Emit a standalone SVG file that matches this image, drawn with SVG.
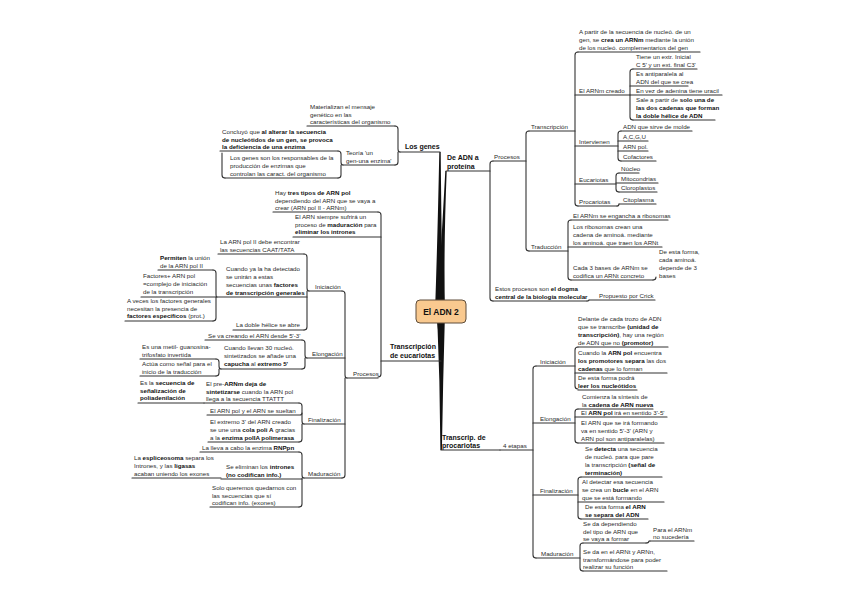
<svg xmlns="http://www.w3.org/2000/svg" width="848" height="599" viewBox="0 0 848 599">
<style>
text{font-family:"Liberation Sans",Arial,sans-serif;fill:#2a2a2a}
.t{font-size:6.2px}
.b{font-weight:bold;fill:#111}
.m{font-size:7px;font-weight:bold;fill:#111}
.c{font-size:8.5px;font-weight:bold;fill:#111}
.u{fill:none;stroke:#333;stroke-width:1.1;stroke-linecap:round}
.k{fill:none;stroke:#333;stroke-width:1.1;stroke-linecap:round;stroke-linejoin:round}
.br{fill:#111;stroke:none}
</style>
<rect width="848" height="599" fill="#fff"/>
<g id="connectors">
<path class="br" d="M439.3,152 Q437.5,240 435,312 L443,312 Q441.5,240 440.7,152 Z"/>
<path class="br" d="M445.3,171 Q441,250 437,312 L445,312 Q443.5,250 446.7,171 Z"/>
<path class="br" d="M440.3,361 Q439,335 436,312 L444,312 Q441.8,335 441.7,361 Z"/>
<path class="br" d="M440.4,450 Q440,380 437,312 L445,312 Q443,380 441.9,450 Z"/>
<path class="k" d="M490,171 V164 Q490,161 493,161 M490,171 V298 Q490,301 493,301"/>
<path class="k" d="M526,161 V134 Q526,131 529,131 M526,161 V248 Q526,251 529,251"/>
<path class="k" d="M575,131 V55 Q575,52 578,52 M575,131 V203 Q575,206 578,206 M575,98 V95 M575,143 V146 M575,181 V184"/>
<path class="k" d="M630,95 V72 Q630,69 633,69 M630,95 V117 Q630,120 633,120"/>
<path class="k" d="M618,146 V134 Q618,131 621,131 M618,146 V158 Q618,161 621,161"/>
<path class="k" d="M616,184 V176 Q616,173 619,173 M616,184 V189 Q616,192 619,192"/>
<path class="k" d="M617,206 Q619,206 619,204"/>
<path class="k" d="M568,251 V223 Q568,220 571,220 M568,251 V277 Q568,280 571,280"/>
<path class="k" d="M653,280 Q656,280 656,277"/>
<path class="k" d="M587,301 Q589,301 589,300"/>
<path class="k" d="M533,450 V369 Q533,366 536,366 M533,450 V555 Q533,558 536,558"/>
<path class="k" d="M575,366 V350 Q575,347 578,347 M575,366 V386 Q575,389 578,389"/>
<path class="k" d="M575,423 V412 Q575,409 578,409 M575,423 V440 Q575,443 578,443"/>
<path class="k" d="M578,495 V480 Q578,477 581,477 M578,495 V516 Q578,519 581,519"/>
<path class="k" d="M580,558 V546 Q580,543 583,543 M580,558 V568 Q580,571 583,571"/>
<path class="k" d="M646,543 Q649,543 649,541 H650"/>
<path class="k" d="M400,152 Q398,152 398,149 V129 Q398,126 395,126 M398,152 V162 Q398,165 395,165"/>
<path class="k" d="M343,165 Q341,165 341,162 V154 Q341,151 338,151 M341,165 V175 Q341,178 338,178"/>
<path class="k" d="M222,153 V175 Q222,178 225,178"/>
<path class="k" d="M381,361 V215 Q381,212 378,212 M381,361 V374 Q381,377 378,377"/>
<path class="k" d="M347,378 Q345,378 345,375 V294 Q345,291 342,291 M345,378 V475 Q345,478 342,478"/>
<path class="k" d="M309,291 Q307,291 307,288 V257 Q307,254 304,254 M307,291 V327 Q307,330 304,330"/>
<path class="k" d="M217,297 Q216,297 216,294 V273 Q216,270 213,270 M216,297 V318 Q216,321 213,321"/>
<path class="k" d="M307,358 Q305,358 305,355 V343 Q305,340 302,340 M305,358 V366 Q305,369 302,369"/>
<path class="k" d="M221,369 Q219,369 219,366 V362 Q219,359 216,359 M219,369 V373 Q219,376 216,376"/>
<path class="k" d="M304,424 Q302,424 302,421 V406 Q302,403 299,403 M302,424 V439 Q302,442 299,442"/>
<path class="k" d="M304,478 Q302,478 302,475 V455 Q302,452 299,452 M302,478 V504 Q302,507 299,507"/>
</g>
<g id="center">
<rect x="416" y="300" width="50" height="23" rx="4" fill="#F9C98F" stroke="#5e4d3a" stroke-width="1"/>
<text class="c" x="441" y="315" text-anchor="middle">El ADN 2</text>
</g>
<g id="n-adn-proteina"><text class="m" x="447" y="160">De ADN a</text><text class="m" x="447" y="169">proteína</text><path class="u" d="M446,171 H490"/></g>
<g id="n-procesos-r"><text class="t" x="494" y="159">Procesos</text><path class="u" d="M493,161 H526"/></g>
<g id="n-transcripcion"><text class="t" x="531" y="129">Transcripción</text><path class="u" d="M529,131 H575"/></g>
<g id="n-apartir"><text class="t" x="579"><tspan x="579" y="34">A partir de la secuencia de nucleó. de un</tspan><tspan x="579" y="42">gen, se <tspan class="b">crea un ARNm</tspan> mediante la unión</tspan><tspan x="579" y="50">de los nucleó. complementarios del gen</tspan></text><path class="u" d="M578,52 H700"/></g>
<g id="n-arnm-creado"><text class="t" x="579" y="93">El ARNm creado</text><path class="u" d="M575,95 H630"/></g>
<g id="n-tiene"><text class="t"><tspan x="636" y="59">Tiene un extr. Inicial</tspan><tspan x="636" y="67">C 5' y un ext. final C3'</tspan></text><path class="u" d="M633,69 H697"/></g>
<g id="n-antiparalela"><text class="t"><tspan x="636" y="76">Es antiparalela al</tspan><tspan x="636" y="84">ADN del que se crea</tspan></text><path class="u" d="M630,86 H688"/></g>
<g id="n-uracil"><text class="t" x="636" y="93">En vez de adenina tiene uracil</text><path class="u" d="M630,95 H722"/></g>
<g id="n-sale"><text class="t"><tspan x="636" y="102">Sale a partir de <tspan class="b">solo una de</tspan></tspan><tspan x="636" y="110" class="b">las dos cadenas que forman</tspan><tspan x="636" y="118" class="b">la doble hélice de ADN</tspan></text><path class="u" d="M633,120 H715"/></g>
<g id="n-intervienen"><text class="t" x="579" y="144">Intervienen</text><path class="u" d="M575,146 H618"/></g>
<g id="n-molde"><text class="t" x="623" y="129">ADN que sirve de molde</text><path class="u" d="M621,131 H692"/></g>
<g id="n-acgu"><text class="t" x="623" y="139">A,C,G,U</text><path class="u" d="M618,141 H648"/></g>
<g id="n-arnpol"><text class="t" x="623" y="149">ARN pol.</text><path class="u" d="M618,151 H648"/></g>
<g id="n-cofactores"><text class="t" x="623" y="159">Cofactores</text><path class="u" d="M621,161 H656"/></g>
<g id="n-eucariotas-r"><text class="t" x="579" y="182">Eucariotas</text><path class="u" d="M575,184 H616"/></g>
<g id="n-nucleo"><text class="t" x="621" y="171">Núcleo</text><path class="u" d="M619,173 H639"/></g>
<g id="n-mito"><text class="t" x="621" y="181">Mitocondrias</text><path class="u" d="M616,183 H658"/></g>
<g id="n-cloro"><text class="t" x="621" y="190">Cloroplastos</text><path class="u" d="M619,192 H657"/></g>
<g id="n-procariotas-r"><text class="t" x="579" y="204">Procariotas</text><path class="u" d="M578,206 H617"/></g>
<g id="n-citoplasma"><text class="t" x="623" y="202">Citoplasma</text><path class="u" d="M619,204 H656"/></g>
<g id="n-traduccion"><text class="t" x="531" y="249">Traducción</text><path class="u" d="M529,251 H568"/></g>
<g id="n-engancha"><text class="t" x="573" y="218">El ARNm se engancha a ribosomas</text><path class="u" d="M571,220 H668"/></g>
<g id="n-ribosomas"><text class="t"><tspan x="573" y="229">Los ribosomas crean una</tspan><tspan x="573" y="237">cadena de aminoá. mediante</tspan><tspan x="573" y="245">los aminoá. que traen los ARNt</tspan></text><path class="u" d="M568,247 H662"/></g>
<g id="n-cada3"><text class="t"><tspan x="573" y="270">Cada 3 bases de ARNm se</tspan><tspan x="573" y="278">codifica un ARNt concreto</tspan></text><path class="u" d="M571,280 H653"/></g>
<g id="n-deestaforma1"><text class="t"><tspan x="659" y="254">De esta forma,</tspan><tspan x="659" y="262">cada aminoá.</tspan><tspan x="659" y="270">depende de 3</tspan><tspan x="659" y="278">bases</tspan></text></g>
<g id="n-dogma"><text class="t"><tspan x="495" y="291">Estos procesos son <tspan class="b">el dogma</tspan></tspan><tspan x="495" y="299" class="b">central de la biología molecular</tspan></text><path class="u" d="M493,301 H587"/></g>
<g id="n-crick"><text class="t" x="599" y="298">Propuesto por Crick</text><path class="u" d="M589,300 H655"/></g>
<g id="n-procariotas"><text class="m" x="442" y="440">Transcrip. de</text><text class="m" x="442" y="448">procariotas</text><path class="u" d="M441,450 H500"/></g>
<g id="n-4etapas"><text class="t" x="503" y="448">4 etapas</text><path class="u" d="M500,450 H533"/></g>
<g id="n-iniciacion-r"><text class="t" x="540" y="364">Iniciación</text><path class="u" d="M536,366 H575"/></g>
<g id="n-delante"><text class="t"><tspan x="578" y="321">Delante de cada trozo de ADN</tspan><tspan x="578" y="329">que se transcribe <tspan class="b">(unidad de</tspan></tspan><tspan x="578" y="337"><tspan class="b">transcripción)</tspan>, hay una región</tspan><tspan x="578" y="345">de ADN que no <tspan class="b">(promotor)</tspan></tspan></text><path class="u" d="M578,347 H668"/></g>
<g id="n-cuandoarnpol"><text class="t"><tspan x="578" y="355">Cuando la <tspan class="b">ARN pol</tspan> encuentra</tspan><tspan x="578" y="363"><tspan class="b">los promotores separa</tspan> las dos</tspan><tspan x="578" y="371"><tspan class="b">cadenas</tspan> que lo forman</tspan></text><path class="u" d="M575,373 H667"/></g>
<g id="n-leer"><text class="t"><tspan x="578" y="380">De esta forma podrá</tspan><tspan x="578" y="388" class="b">leer los nucleótidos</tspan></text><path class="u" d="M578,390 H637"/></g>
<g id="n-elongacion-r"><text class="t" x="540" y="421">Elongación</text><path class="u" d="M533,423 H575"/></g>
<g id="n-comienza"><text class="t"><tspan x="582" y="399">Comienza la síntesis de</tspan><tspan x="582" y="407">la <tspan class="b">cadena de ARN nueva</tspan></tspan></text><path class="u" d="M578,409 H653"/></g>
<g id="n-ira35"><text class="t" x="581" y="415">El <tspan class="b">ARN pol</tspan> irá en sentido 3'-5'</text><path class="u" d="M575,417 H667"/></g>
<g id="n-ira53"><text class="t"><tspan x="581" y="425">El ARN que se irá formando</tspan><tspan x="581" y="433">va en sentido 5'-3' (ARN y</tspan><tspan x="581" y="441">ARN pol son antiparalelas)</tspan></text><path class="u" d="M578,443 H664"/></g>
<g id="n-finalizacion-r"><text class="t" x="540" y="493">Finalización</text><path class="u" d="M533,495 H578"/></g>
<g id="n-detecta"><text class="t"><tspan x="585" y="451">Se <tspan class="b">detecta</tspan> una secuencia</tspan><tspan x="585" y="459">de nucleó. para que pare</tspan><tspan x="585" y="467">la transcripción <tspan class="b">(señal de</tspan></tspan><tspan x="585" y="475" class="b">terminación)</tspan></text><path class="u" d="M581,477 H662"/></g>
<g id="n-bucle"><text class="t"><tspan x="582" y="484">Al detectar esa secuencia</tspan><tspan x="582" y="492">se crea un <tspan class="b">bucle</tspan> en el ARN</tspan><tspan x="582" y="500">que se está formando</tspan></text><path class="u" d="M578,502 H664"/></g>
<g id="n-separa"><text class="t"><tspan x="585" y="509">De esta forma <tspan class="b">el ARN</tspan></tspan><tspan x="585" y="517" class="b">se separa del ADN</tspan></text><path class="u" d="M581,519 H648"/></g>
<g id="n-maduracion-r"><text class="t" x="541" y="556">Maduración</text><path class="u" d="M536,558 H580"/></g>
<g id="n-dependiendo"><text class="t"><tspan x="583" y="526">Se da dependiendo</tspan><tspan x="583" y="534">del tipo de ARN que</tspan><tspan x="583" y="541">se vaya a formar</tspan></text><path class="u" d="M583,543 H646"/></g>
<g id="n-nosucederia"><text class="t"><tspan x="653" y="532">Para el ARNm</tspan><tspan x="653" y="539">no sucedería</tspan></text><path class="u" d="M650,541 H694"/></g>
<g id="n-arnt"><text class="t"><tspan x="583" y="554">Se da en el ARNt y ARNn,</tspan><tspan x="583" y="562">transformándose para poder</tspan><tspan x="583" y="569">realizar su función</tspan></text><path class="u" d="M583,571 H667"/></g>
<g id="n-genes"><text class="m" x="405" y="149">Los genes</text><path class="u" d="M400,152 H440"/></g>
<g id="n-materializan"><text class="t"><tspan x="310" y="109">Materializan el mensaje</tspan><tspan x="310" y="117">genético en las</tspan><tspan x="310" y="124">características del organismo</tspan></text><path class="u" d="M307,126 H395"/></g>
<g id="n-teoria"><text class="t"><tspan x="346" y="155">Teoría 'un</tspan><tspan x="346" y="163">gen-una enzima'</tspan></text><path class="u" d="M343,165 H395"/></g>
<g id="n-concluyo"><text class="t"><tspan x="222" y="134">Concluyó que <tspan class="b">al alterar la secuencia</tspan></tspan><tspan x="222" y="142" class="b">de nucleótidos de un gen, se provoca</tspan><tspan x="222" y="149" class="b">la deficiencia de una enzima</tspan></text><path class="u" d="M220,151 H338"/></g>
<g id="n-responsables"><text class="t"><tspan x="230" y="160">Los genes son los responsables de la</tspan><tspan x="230" y="168">producción de enzimas que</tspan><tspan x="230" y="176">controlan las caract. del organismo</tspan></text><path class="u" d="M225,178 H338"/></g>
<g id="n-eucariotas"><text class="m" x="390" y="349">Transcripción</text><text class="m" x="390" y="358">de eucariotas</text><path class="u" d="M381,361 H441"/></g>
<g id="n-tipos"><text class="t"><tspan x="275" y="195">Hay <tspan class="b">tres tipos de ARN pol</tspan></tspan><tspan x="275" y="203">dependiendo del ARN que se vaya a</tspan><tspan x="275" y="210">crear (ARN pol II - ARNm)</tspan></text><path class="u" d="M273,212 H378"/></g>
<g id="n-siempre"><text class="t"><tspan x="295" y="219">El ARN siempre sufrirá un</tspan><tspan x="295" y="227">proceso de <tspan class="b">maduración</tspan> para</tspan><tspan x="295" y="234" class="b">eliminar los intrones</tspan></text><path class="u" d="M293,237 H381"/></g>
<g id="n-procesos-l"><text class="t" x="353" y="376">Procesos</text><path class="u" d="M347,378 H378"/></g>
<g id="n-iniciacion-l"><text class="t" x="315" y="289">Iniciación</text><path class="u" d="M309,291 H342"/></g>
<g id="n-caat"><text class="t"><tspan x="220" y="244">La ARN pol II debe encontrar</tspan><tspan x="220" y="252">las secuencias CAAT/TATA</tspan></text><path class="u" d="M218,254 H304"/></g>
<g id="n-cuandoya"><text class="t"><tspan x="226" y="271">Cuando ya la ha detectado</tspan><tspan x="226" y="279">se unirán a estas</tspan><tspan x="226" y="287">secuencias unas <tspan class="b">factores</tspan></tspan><tspan x="226" y="295" class="b">de transcripción generales</tspan></text><path class="u" d="M217,297 H307"/></g>
<g id="n-permiten"><text class="t"><tspan x="160" y="260"><tspan class="b">Permiten</tspan> la unión</tspan><tspan x="160" y="268">de la ARN pol II</tspan></text><path class="u" d="M158,270 H213"/></g>
<g id="n-factores"><text class="t"><tspan x="143" y="278">Factores+ ARN pol</tspan><tspan x="143" y="286">=complejo de iniciación</tspan><tspan x="143" y="294">de la transcripción</tspan></text><path class="u" d="M141,297 H216"/></g>
<g id="n-aveces"><text class="t"><tspan x="127" y="303">A veces los factores generales</tspan><tspan x="127" y="311">necesitan la presencia de</tspan><tspan x="127" y="318"><tspan class="b">factores específicos</tspan> (prot.)</tspan></text><path class="u" d="M125,321 H213"/></g>
<g id="n-doblehelice"><text class="t" x="236" y="327">La doble hélice se abre</text><path class="u" d="M233,330 H304"/></g>
<g id="n-elongacion-l"><text class="t" x="312" y="356">Elongación</text><path class="u" d="M307,358 H345"/></g>
<g id="n-secreando"><text class="t" x="208" y="338">Se va creando el ARN desde 5'-3'</text><path class="u" d="M205,340 H302"/></g>
<g id="n-capucha"><text class="t"><tspan x="224" y="350">Cuando llevan 30 nucleó.</tspan><tspan x="224" y="358">sintetizados se añade una</tspan><tspan x="224" y="366"><tspan class="b">capucha</tspan> al <tspan class="b">extremo 5'</tspan></tspan></text><path class="u" d="M221,369 H302"/></g>
<g id="n-metil"><text class="t"><tspan x="142" y="349">Es una metil- guanosina-</tspan><tspan x="142" y="357">trifosfato invertida</tspan></text><path class="u" d="M140,359 H216"/></g>
<g id="n-actua"><text class="t"><tspan x="142" y="366">Actúa como señal para el</tspan><tspan x="142" y="374">inicio de la traducción</tspan></text><path class="u" d="M140,376 H216"/></g>
<g id="n-finalizacion-l"><text class="t" x="308" y="422">Finalización</text><path class="u" d="M304,424 H345"/></g>
<g id="n-prearnm"><text class="t"><tspan x="206" y="386">El pre-<tspan class="b">ARNm deja de</tspan></tspan><tspan x="206" y="394"><tspan class="b">sintetizarse</tspan> cuando la ARN pol</tspan><tspan x="206" y="401">llega a la secuencia TTATTT</tspan></text><path class="u" d="M204,403 H299"/></g>
<g id="n-poliaden"><text class="t"><tspan x="140" y="385">Es la <tspan class="b">secuencia de</tspan></tspan><tspan x="140" y="393" class="b">señalización de</tspan><tspan x="140" y="400" class="b">poliadenilación</tspan></text><path class="u" d="M138,403 H204"/></g>
<g id="n-sueltan"><text class="t" x="210" y="413">El ARN pol y el ARN se sueltan</text><path class="u" d="M207,415 H300 Q302,415 302,413"/></g>
<g id="n-extremo3"><text class="t"><tspan x="210" y="424">El extremo 3' del ARN creado</tspan><tspan x="210" y="432">se une una <tspan class="b">cola poli A</tspan> gracias</tspan><tspan x="210" y="440">a la <tspan class="b">enzima polIA polimerasa</tspan></tspan></text><path class="u" d="M208,442 H299"/></g>
<g id="n-maduracion-l"><text class="t" x="308" y="476">Maduración</text><path class="u" d="M304,478 H342"/></g>
<g id="n-rnppn"><text class="t" x="202" y="450">La lleva a cabo la enzima  <tspan class="b">RNPpn</tspan></text><path class="u" d="M200,452 H299"/></g>
<g id="n-eliminan"><text class="t"><tspan x="226" y="469">Se eliminan los <tspan class="b">intrones</tspan></tspan><tspan x="226" y="477" class="b">(no codifican info.)</tspan></text><path class="u" d="M221,479 H302"/></g>
<g id="n-espliceosoma"><text class="t"><tspan x="134" y="460">La <tspan class="b">espliceosoma</tspan> separa los</tspan><tspan x="134" y="468">Intrones, y las <tspan class="b">ligasas</tspan></tspan><tspan x="134" y="476">acaban uniendo los exones</tspan></text><path class="u" d="M132,478 H221"/></g>
<g id="n-exones"><text class="t"><tspan x="212" y="490">Solo queremos quedarnos con</tspan><tspan x="212" y="498">las secuencias que sí</tspan><tspan x="212" y="505">codifican info. (exones)</tspan></text><path class="u" d="M210,507 H299"/></g>
</svg>
